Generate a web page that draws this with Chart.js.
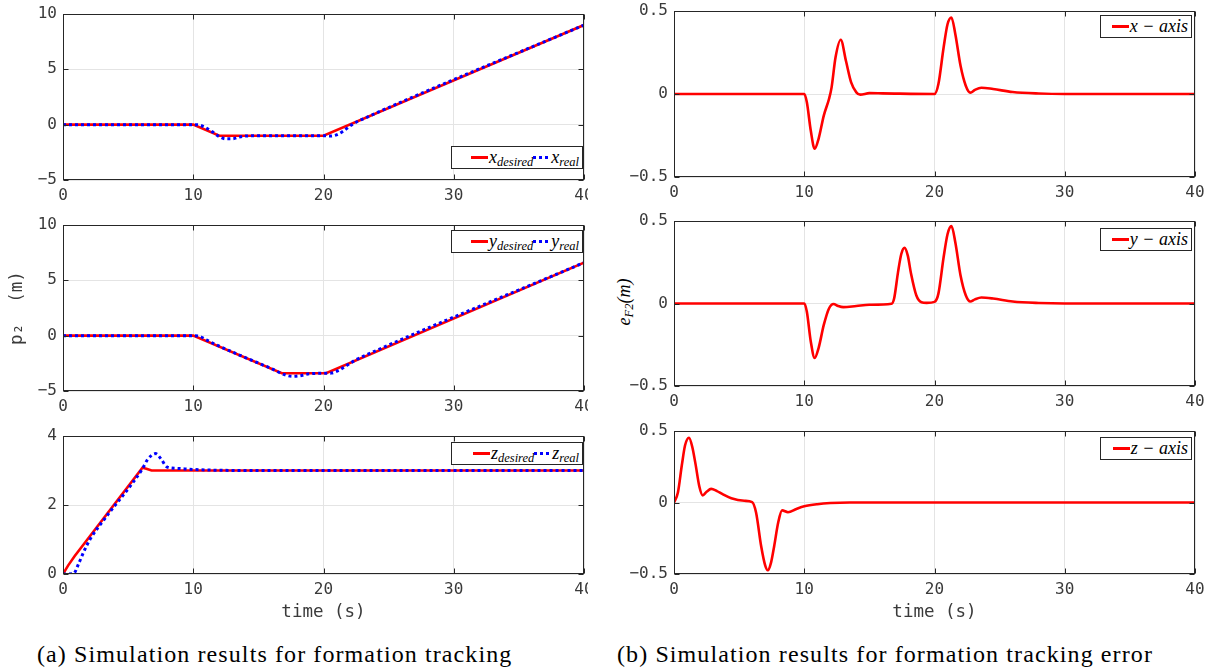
<!DOCTYPE html>
<html><head><meta charset="utf-8">
<script src="https://cdn.jsdelivr.net/npm/chart.js@4.4.0/dist/chart.umd.min.js"></script>
<style>
body{margin:0;background:#fff}
#wrap{position:relative;width:1219px;height:670px;overflow:hidden;background:#fff}
#wrap canvas{position:absolute}
.lg{position:absolute;background:#fff;border:1px solid #262626;height:23px;display:flex;align-items:center;justify-content:flex-end;padding:0 3px 0 1px;
  font:italic 18px "Liberation Serif",serif;color:#000;white-space:nowrap;box-sizing:border-box}
.lg sub{font-size:12.5px;vertical-align:-3px;line-height:0}
.smp{display:inline-block;width:17px;height:3px;margin-right:1px}
.cap{position:absolute;font:24px "Liberation Serif",serif;letter-spacing:1.1px;color:#000;white-space:nowrap}
.ytl{position:absolute;font:italic 18px "Liberation Serif",serif;transform:translate(-50%,-50%) rotate(-90deg);white-space:nowrap}
.ytl sub{font-size:12.5px;vertical-align:-3px;line-height:0}
</style>
</head>
<body>
<div id="wrap">
  <div class="cap" style="left:37px;top:641px">(a) Simulation results for formation tracking</div>
  <div class="cap" style="left:617px;top:641px">(b) Simulation results for formation tracking error</div>
  <div class="ytl" style="left:624px;top:302px">e<sub>F2</sub>(m)</div>
</div>
<script>
// time axis + tick values
const timeTicks = [0, 10, 20, 30, 40];
const posTicks = [-5, 0, 5, 10];
const zTicks = [0, 2, 4];
const errTicks = [-0.5, 0, 0.5];

// (a) tracking, [t, value]
const xDesired = [[0,0],[10,0],[12,-1],[20,-1],[40,9]];
const xReal = [[0,0],[10,0],[10.4,-0.02],[10.9,-0.24],[11.5,-0.67],[12,-1.08],[12.5,-1.28],[13,-1.28],[13.5,-1.13],[14,-1.03],[15,-1],[20,-1],[20.5,-1.03],[21,-0.92],[21.5,-0.6],[22,-0.15],[22.5,0.22],[23,0.5],[40,9]];
const yDesired = [[0,0],[10,0],[16.8,-3.4],[20.2,-3.4],[40,6.6]];
const yReal = [[0,0],[10,0],[10.5,-0.06],[11,-0.38],[12,-0.95],[14,-1.98],[16,-2.98],[17,-3.52],[17.6,-3.68],[18.2,-3.62],[18.8,-3.46],[20,-3.4],[20.6,-3.38],[21.2,-3.12],[21.8,-2.68],[22.4,-2.24],[23,-1.9],[40,6.6]];
const zDesired = [[0,0],[0.4,0.25],[0.9,0.52],[6.1,3.08],[6.4,3.05],[6.8,3.0],[40,3]];
const zReal = [[0,0],[0.8,0.01],[1.2,0.3],[1.6,0.65],[2.1,1.02],[3.2,1.6],[6.1,3.05],[6.5,3.32],[7.1,3.49],[7.5,3.35],[8,3.1],[8.8,3.06],[10,3.03],[14,3],[40,3]];

// (b) tracking error
const xErr = [[0,0],[10,0],[10.2,-0.05],[10.5,-0.22],[10.8,-0.33],[11.1,-0.27],[11.5,-0.13],[11.9,-0.03],[12.1,0.04],[12.4,0.22],[12.8,0.327],[13.2,0.2],[13.6,0.07],[14,0.01],[14.3,-0.004],[15,0.005],[16,0.004],[20,0],[20.3,0.06],[20.7,0.28],[21,0.42],[21.3,0.461],[21.6,0.36],[22,0.17],[22.4,0.05],[22.75,0.008],[23.1,0.025],[23.6,0.038],[24.5,0.03],[26,0.012],[28,0.003],[30,0],[40,0]];
const yErr = [[0,0],[10,0],[10.2,-0.05],[10.5,-0.23],[10.8,-0.33],[11.1,-0.27],[11.5,-0.13],[11.9,-0.03],[12.25,-0.003],[12.6,-0.015],[13,-0.022],[14,-0.015],[15,-0.008],[16.7,-0.002],[16.9,0.03],[17.2,0.19],[17.45,0.3],[17.7,0.337],[17.95,0.29],[18.2,0.18],[18.6,0.05],[19,0.008],[19.4,0.004],[20,0.01],[20.3,0.06],[20.7,0.28],[21,0.42],[21.3,0.469],[21.6,0.37],[22,0.17],[22.4,0.05],[22.75,0.012],[23.1,0.025],[23.6,0.036],[24.5,0.03],[26,0.012],[28,0.003],[30,0],[40,0]];
const zErr = [[0,0],[0.3,0.07],[0.6,0.26],[0.85,0.4],[1.15,0.453],[1.4,0.39],[1.65,0.27],[1.95,0.11],[2.2,0.05],[2.5,0.075],[2.85,0.095],[3.3,0.08],[3.7,0.06],[4.4,0.03],[5.4,0.012],[6,0.003],[6.3,-0.07],[6.7,-0.31],[7,-0.44],[7.2,-0.474],[7.45,-0.42],[7.7,-0.3],[8,-0.14],[8.3,-0.055],[8.75,-0.068],[9.4,-0.045],[10,-0.027],[11,-0.012],[12,-0.004],[13.5,0],[40,0]];

const RED = '#ff0000', BLUE = '#0000ff', AX = '#262626';
const monoFont = {family: 'DejaVu Sans Mono', size: 16};
const pts = a => a.map(([x, y]) => ({x, y}));
const fmt = v => v === 0 ? '0' : String(v).replace('-', '\u2212');

// box round the axes plus the small inward ticks matlab draws
const boxPlugin = {
  id: 'box',
  afterDraw(chart) {
    const {ctx, chartArea: a, scales} = chart;
    const L = Math.round(a.left) + 0.5, R = Math.round(a.right) - 0.5;
    const T = Math.round(a.top) + 0.5, B = Math.round(a.bottom) - 0.5;
    ctx.save();
    ctx.strokeStyle = AX; ctx.lineWidth = 1;
    ctx.beginPath();
    scales.x.ticks.forEach(t => {
      const px = Math.round(scales.x.getPixelForValue(t.value)) + 0.5;
      ctx.moveTo(px, B); ctx.lineTo(px, B - 5);
      ctx.moveTo(px, T); ctx.lineTo(px, T + 5);
    });
    scales.y.ticks.forEach(t => {
      const py = Math.round(scales.y.getPixelForValue(t.value)) + 0.5;
      ctx.moveTo(L, py); ctx.lineTo(L + 5, py);
      ctx.moveTo(R, py); ctx.lineTo(R - 5, py);
    });
    ctx.stroke();
    ctx.strokeRect(L, T, R - L, B - T);
    ctx.restore();
  }
};

function panel(p) {
  const c = document.createElement('canvas');
  c.width = p.w; c.height = p.h;
  c.style.left = p.left + 'px'; c.style.top = p.top + 'px';
  document.getElementById('wrap').appendChild(c);
  const sets = p.series.map(s => ({
    label: s.label,
    data: pts(s.data),
    borderColor: s.color,
    borderWidth: s.dash ? 3 : 2.6,
    borderDash: s.dash || [],
    borderCapStyle: 'butt',
    pointRadius: 0,
    tension: s.linear ? 0 : 0.4,
    cubicInterpolationMode: s.linear ? 'default' : 'monotone',
    order: s.dash ? 1 : 2
  }));
  const chart = new Chart(c, {
    type: 'line',
    data: {datasets: sets},
    options: {
      responsive: false, animation: false, events: [],
      layout: {padding: {left: 0, top: p.pt, right: p.pr, bottom: 0}},
      plugins: {legend: {display: false}, tooltip: {enabled: false}},
      scales: {
        x: {
          type: 'linear', min: 0, max: 40,
          afterBuildTicks: s => { s.ticks = timeTicks.map(v => ({value: v})); },
          afterFit: s => { s.height = p.xh; s.paddingLeft = 0; s.paddingRight = 0; },
          grid: {color: '#e4e4e4', drawTicks: false},
          border: {display: false},
          ticks: {font: monoFont, color: '#3a3a3a', padding: 6, maxRotation: 0, autoSkip: false},
          title: {display: !!p.xTitle, text: p.xTitle || '', font: {family: 'DejaVu Sans Mono', size: 17.5}, color: '#3a3a3a', padding: {top: 0, bottom: 7}}
        },
        y: {
          type: 'linear', min: p.yTicks[0], max: p.yTicks[p.yTicks.length - 1],
          afterBuildTicks: s => { s.ticks = p.yTicks.map(v => ({value: v})); },
          afterFit: s => { s.width = p.yw; s.paddingTop = 0; s.paddingBottom = 0; },
          grid: {color: '#e4e4e4', drawTicks: false},
          border: {display: false},
          ticks: {font: monoFont, color: '#3a3a3a', padding: 6, callback: fmt},
          title: {display: !!p.yTitle, text: p.yTitle || '', font: {family: 'DejaVu Sans Mono', size: 17.5}, color: '#3a3a3a', padding: {top: 7, bottom: 0}}
        }
      }
    },
    plugins: [boxPlugin]
  });
  legend(chart, p.legend);
  return chart;
}

// html legend built from the datasets so subscripts stay real text
function legend(chart, pos) {
  const d = document.createElement('div');
  d.className = 'lg';
  d.style.left = pos[0] + 'px'; d.style.top = pos[1] + 'px'; d.style.width = pos[2] + 'px';
  chart.data.datasets.forEach(ds => {
    const s = document.createElement('span');
    s.className = 'smp';
    s.style.background = ds.borderDash.length
      ? `repeating-linear-gradient(90deg, ${ds.borderColor} 0 3px, transparent 3px 6px)`
      : ds.borderColor;
    d.appendChild(s);
    const t = document.createElement('span');
    const [base, sub] = ds.label.split('_');
    t.innerHTML = base + (sub ? '<sub>' + sub + '</sub>' : '');
    d.appendChild(t);
  });
  document.getElementById('wrap').appendChild(d);
}

const L = {left: 0, w: 588, yw: 63, pr: 4};
const R = {left: 610, w: 609, yw: 64, pr: 24};

panel({...L, top: 0, h: 206, pt: 14, xh: 26, yTicks: posTicks, legend: [451, 146, 132],
  series: [{label: 'x_desired', data: xDesired, color: RED, linear: true}, {label: 'x_real', data: xReal, color: BLUE, dash: [3, 3]}]});
panel({...L, top: 211, h: 206, pt: 14, xh: 26, yTicks: posTicks, yTitle: 'p\u2082  (m)', legend: [451, 230, 132],
  series: [{label: 'y_desired', data: yDesired, color: RED, linear: true}, {label: 'y_real', data: yReal, color: BLUE, dash: [3, 3]}]});
panel({...L, top: 422, h: 208, pt: 14, xh: 56, yTicks: zTicks, xTitle: 'time (s)', legend: [451, 442, 132],
  series: [{label: 'z_desired', data: zDesired, color: RED, linear: true}, {label: 'z_real', data: zReal, color: BLUE, dash: [3, 3]}]});

panel({...R, top: 0, h: 203, pt: 11, xh: 26, yTicks: errTicks, legend: [1100, 15, 92],
  series: [{label: 'x \u2212 axis', data: xErr, color: RED}]});
panel({...R, top: 207, h: 205, pt: 14, xh: 26, yTicks: errTicks, legend: [1100, 228, 92],
  series: [{label: 'y \u2212 axis', data: yErr, color: RED}]});
panel({...R, top: 417, h: 213, pt: 14, xh: 56, yTicks: errTicks, xTitle: 'time (s)', legend: [1100, 437, 92],
  series: [{label: 'z \u2212 axis', data: zErr, color: RED}]});
</script>
</body></html>
